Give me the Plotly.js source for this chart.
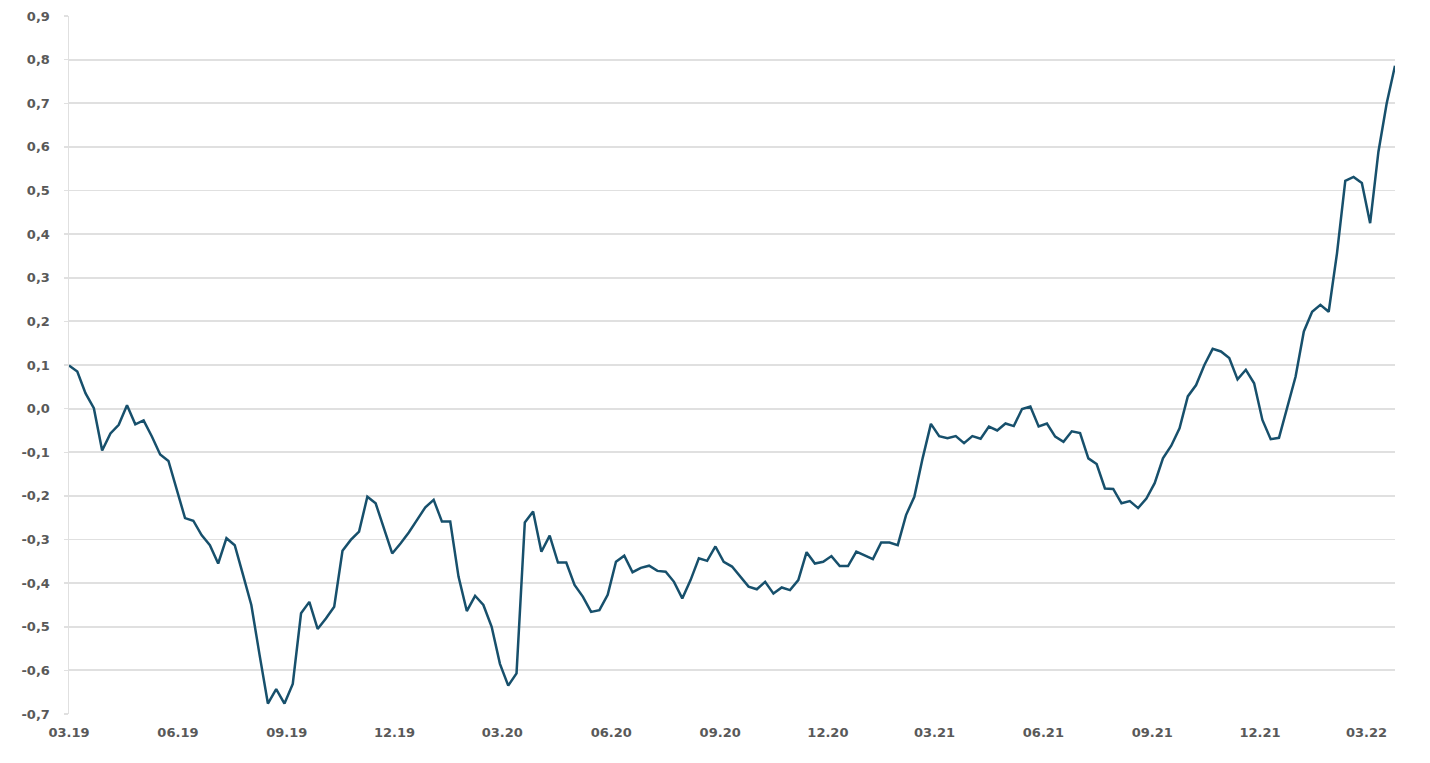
<!DOCTYPE html>
<html>
<head>
<meta charset="utf-8">
<script src="https://cdn.plot.ly/plotly-3.0.1.min.js"></script>
<style>
  html, body { margin: 0; padding: 0; background: #ffffff; }
  #chart { width: 1430px; height: 763px; }
</style>
</head>
<body>
<div id="chart"></div>
<script>
// Weekly series, first week 2019-03-01
const startDate = '2019-03-01';
const endDate = '2022-03-25';
const values = [
  0.099, 0.085, 0.035, 0.001, -0.096, -0.057, -0.037, 0.008, -0.036, -0.027,
  -0.064, -0.105, -0.120, -0.183, -0.251, -0.257, -0.290, -0.313, -0.355, -0.297,
  -0.313, -0.381, -0.450, -0.565, -0.676, -0.643, -0.676, -0.631, -0.469, -0.443,
  -0.505, -0.481, -0.454, -0.326, -0.301, -0.282, -0.202, -0.217, -0.274, -0.332,
  -0.309, -0.284, -0.255, -0.226, -0.209, -0.259, -0.259, -0.385, -0.464, -0.429,
  -0.450, -0.500, -0.585, -0.635, -0.607, -0.261, -0.236, -0.328, -0.291, -0.353,
  -0.353, -0.404, -0.431, -0.466, -0.462, -0.427, -0.351, -0.337, -0.375, -0.365,
  -0.360, -0.372, -0.374, -0.397, -0.435, -0.393, -0.343, -0.349, -0.316, -0.351,
  -0.362, -0.385, -0.408, -0.414, -0.397, -0.424, -0.410, -0.416, -0.393, -0.329,
  -0.355, -0.351, -0.338, -0.361, -0.361, -0.328, -0.336, -0.345, -0.307, -0.307,
  -0.313, -0.244, -0.202, -0.114, -0.035, -0.063, -0.068, -0.063, -0.079, -0.063,
  -0.069, -0.041, -0.050, -0.034, -0.040, -0.001, 0.005, -0.041, -0.034, -0.064,
  -0.076, -0.052, -0.056, -0.114, -0.127, -0.183, -0.184, -0.217, -0.212, -0.228,
  -0.206, -0.171, -0.114, -0.085, -0.045, 0.028, 0.054, 0.100, 0.137, 0.131,
  0.116, 0.067, 0.089, 0.058, -0.026, -0.070, -0.067, 0.005, 0.073, 0.177,
  0.222, 0.238, 0.222, 0.356, 0.522, 0.531, 0.517, 0.425, 0.589, 0.700,
  0.786
];
const xTickDates = ['2019-03-01','2019-06-01','2019-09-01','2019-12-01','2020-03-01','2020-06-01',
  '2020-09-01','2020-12-01','2021-03-01','2021-06-01','2021-09-01','2021-12-01','2022-03-01'];
const xTickLabels = ['03.19','06.19','09.19','12.19','03.20','06.20','09.20','12.20','03.21','06.21','09.21','12.21','03.22'];
const yTickVals = [-0.7,-0.6,-0.5,-0.4,-0.3,-0.2,-0.1,0,0.1,0.2,0.3,0.4,0.5,0.6,0.7,0.8,0.9];
const yTickLabels = ['-0,7','-0,6','-0,5','-0,4','-0,3','-0,2','-0,1','0,0','0,1','0,2','0,3','0,4','0,5','0,6','0,7','0,8','0,9'];

const WEEK_MS = 7 * 24 * 3600 * 1000;
const gridColor = '#e0e0e0';
const tickFont = { family: 'DejaVu Sans, Verdana, sans-serif', size: 13, color: '#595959', weight: 'bold' };

const trace = {
  type: 'scatter',
  mode: 'lines',
  x0: startDate,
  dx: WEEK_MS,
  y: values,
  line: { color: '#17506c', width: 2.5 },
  hoverinfo: 'skip',
  showlegend: false
};

const layout = {
  width: 1430,
  height: 763,
  margin: { l: 69, r: 35, t: 16, b: 49 },
  paper_bgcolor: '#ffffff',
  plot_bgcolor: '#ffffff',
  showlegend: false,
  xaxis: {
    type: 'date',
    range: [startDate, endDate],
    tickvals: xTickDates,
    ticktext: xTickLabels,
    showgrid: false,
    zeroline: false,
    showline: false,
    ticks: '',
    tickfont: tickFont,
    ticklabelstandoff: 9,
    fixedrange: true
  },
  xaxis2: {
    type: 'date',
    overlaying: 'x',
    anchor: 'free',
    position: 0.4375,
    range: [startDate, endDate],
    tickvals: xTickDates,
    showticklabels: false,
    ticks: 'outside',
    ticklen: 4,
    tickwidth: 1.5,
    tickcolor: gridColor,
    showgrid: false,
    zeroline: false,
    showline: false,
    fixedrange: true
  },
  yaxis: {
    range: [-0.7, 0.9],
    tickvals: yTickVals,
    ticktext: yTickLabels,
    showgrid: true,
    gridcolor: gridColor,
    gridwidth: 1.8,
    zeroline: false,
    showline: true,
    linecolor: gridColor,
    linewidth: 1.5,
    ticks: 'outside',
    ticklen: 4,
    tickwidth: 1.5,
    tickcolor: gridColor,
    tickfont: tickFont,
    ticklabelstandoff: 11,
    fixedrange: true
  }
};

Plotly.newPlot('chart', [trace], layout, { displayModeBar: false, staticPlot: true });
</script>
</body>
</html>
